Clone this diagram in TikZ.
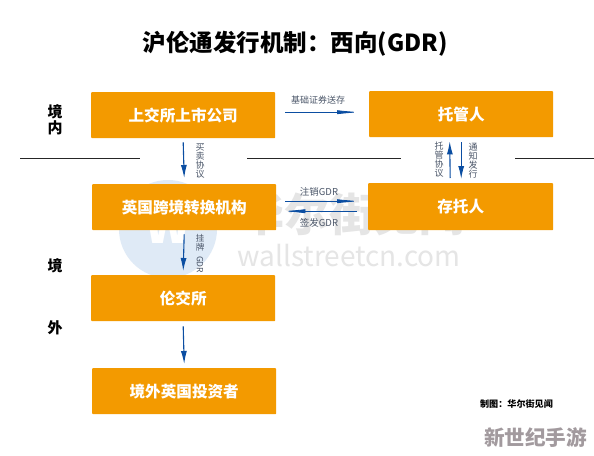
\documentclass[tikz,border=0pt]{standalone}
\usepackage{fontspec}
\setmainfont{Noto Sans CJK SC}
\usetikzlibrary{arrows.meta}
\definecolor{boxor}{HTML}{F39A00}
\definecolor{arrowblue}{HTML}{0B4EA2}
\definecolor{lbl}{HTML}{4A5568}
\definecolor{wmblue}{HTML}{DFEAF6}
\definecolor{stamp}{HTML}{A29A9E}
\tikzset{
  x=1pt,y=-1pt,
  orbox/.style={fill=boxor,draw=none,rounded corners=0.8pt,text=white,font=\fontsize{15.6}{15.6}\selectfont\bfseries,inner sep=0pt,anchor=north west},
  conn/.style={draw=arrowblue,line width=1.1pt,-{Latex[length=13pt,width=6pt]}},
  hconn/.style={draw=arrowblue,line width=0.8pt,-{Latex[length=24pt,width=4pt]}},
  sideline/.style={draw=black!85,line width=0.9pt},
  lab/.style={text=lbl,font=\fontsize{9}{9}\selectfont,inner sep=0pt,align=center},
  side/.style={font=\fontsize{15}{16}\selectfont\bfseries,inner sep=0pt,align=center,text=black},
  wm/.style={text=black!10,inner sep=0pt}
}
\begin{document}
\begin{tikzpicture}
\useasboundingbox[fill=white] (0,0) rectangle (594,455);
% watermark
\node[circle,fill=wmblue,minimum size=98pt,inner sep=0pt] (wmc) at (168,229) {};
\node[wm,text=white,font=\fontsize{48}{48}\selectfont\bfseries] (wmw) at (168,226) {W};
\node[wm,font=\fontsize{45}{45}\selectfont\bfseries] (wmt) at (352,214) {华尔街见闻};
\node[wm,font=\fontsize{28}{28}\selectfont] (wmu) at (349,256) {wallstreetcn.com};
% title
\node[font=\fontsize{23.5}{23.5}\selectfont\bfseries,inner sep=0pt] (title) at (295,44) {沪伦通发行机制：西向(GDR)};
% boxes
\node[orbox,minimum width=184pt,minimum height=46pt] (a) at (91,92) {上交所上市公司};
\node[orbox,minimum width=184pt,minimum height=46pt] (b) at (369,91) {托管人};
\node[orbox,minimum width=184pt,minimum height=46pt] (c) at (92,184) {英国跨境转换机构};
\node[orbox,minimum width=185pt,minimum height=47pt] (d) at (368,183) {存托人};
\node[orbox,minimum width=184pt,minimum height=46pt] (e) at (91,275) {伦交所};
\node[orbox,minimum width=184pt,minimum height=46pt] (f) at (92,368) {境外英国投资者};
% border lines
\coordinate (l1a) at (20,158); \coordinate (l1b) at (140,158);
\coordinate (l2a) at (247,158); \coordinate (l2b) at (401,158);
\coordinate (l3a) at (515,158); \coordinate (l3b) at (594,158);
\draw[sideline] (l1a) -- (l1b);
\draw[sideline] (l2a) -- (l2b);
\draw[sideline] (l3a) -- (l3b);
% vertical arrows
\draw[conn] ([yshift=-4pt]a.south) -- ([yshift=6pt]c.north);
\draw[conn] ([yshift=-4pt]c.south) -- ([yshift=4pt]e.north);
\draw[conn] ([yshift=-5pt]e.south) -- ([yshift=4pt]f.north);
\draw[conn] ([xshift=-10.5pt,yshift=5pt]d.north) -- ([xshift=-11.5pt,yshift=-4pt]b.south);
\draw[conn] ([xshift=0pt,yshift=-5pt]b.south) -- ([xshift=0.5pt,yshift=4pt]d.north);
% horizontal arrows
\draw[hconn] ([xshift=10pt,yshift=3pt]a.east) -- ([xshift=-8pt,yshift=2pt]b.west);
\draw[hconn] ([xshift=9pt,yshift=6pt]c.east) -- ([xshift=-7pt,yshift=5.5pt]d.west);
\draw[hconn] ([xshift=-11pt,yshift=-4.5pt]d.west) -- ([xshift=5pt,yshift=-4pt]c.east);
% labels
\node[lab] (t1) at (318,100) {基础证券送存};
\node[lab,font=\fontsize{9.5}{9.5}\selectfont] (t2) at (319,192) {注销GDR};
\node[lab,font=\fontsize{9.5}{9.5}\selectfont] (t3) at (319,223) {签发GDR};
\node[lab] (t4) at (200,160.5) {买\\卖\\协\\议};
\node[lab,font=\fontsize{8.5}{9.5}\selectfont] (t5) at (200,253.5) {挂\\牌\\[-4pt]\rotatebox{-90}{GDR}};
\node[lab] (t6) at (439,160) {托\\管\\协\\议};
\node[lab] (t7) at (473,161) {通\\知\\发\\行};
\node[side] (s1) at (55,120) {境\\内};
\node[side] (s2) at (55,266) {境};
\node[side] (s3) at (55,328) {外};
\node[font=\fontsize{9.1}{9.1}\selectfont\bfseries,inner sep=0pt] (cr) at (516.5,404) {制图：华尔街见闻};
\node[text=stamp,font=\fontsize{20.6}{20.6}\selectfont\bfseries,inner sep=0pt] (g) at (535.5,438) {新世纪手游};
\end{tikzpicture}
\end{document}
